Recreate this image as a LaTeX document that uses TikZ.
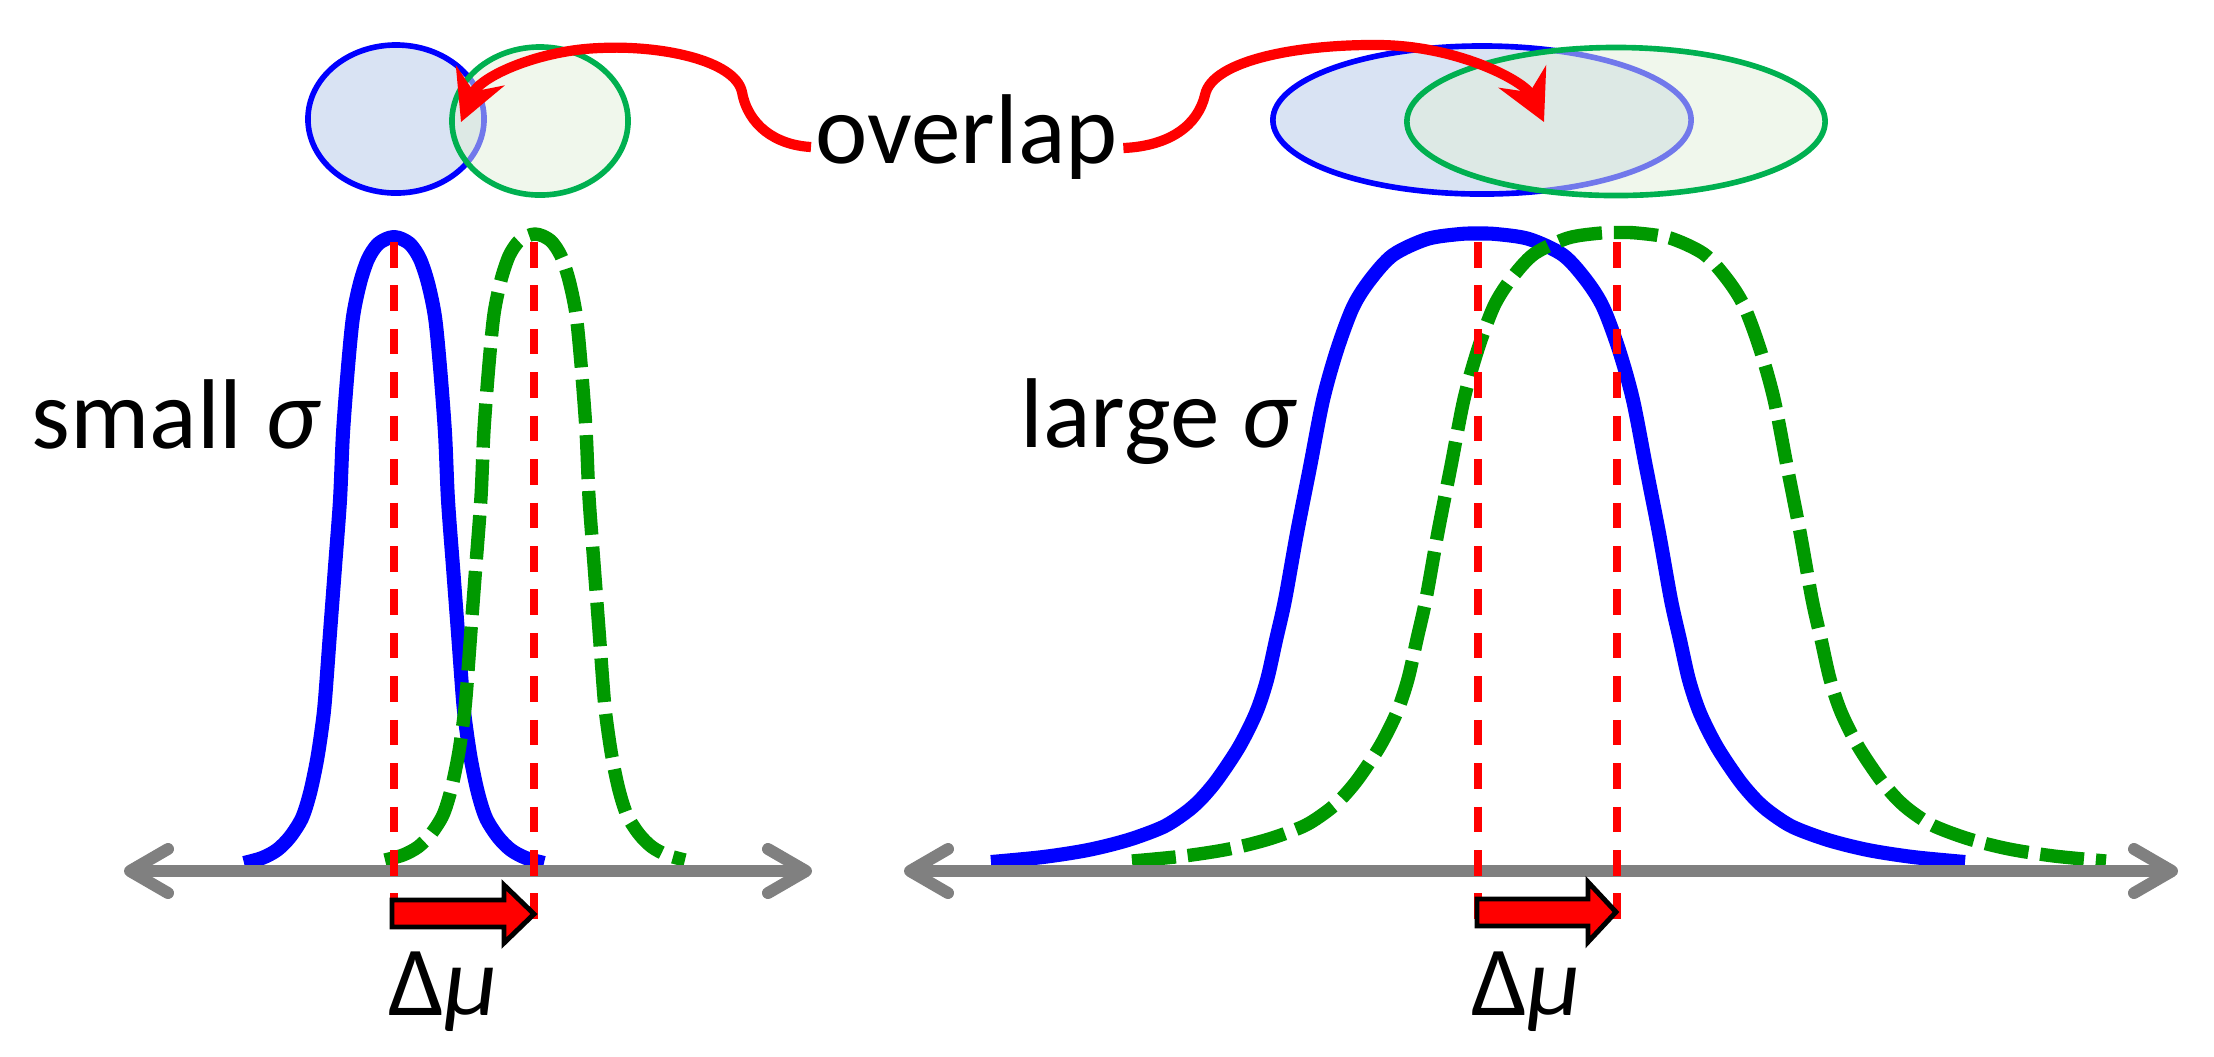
\documentclass[tikz,border=0pt]{standalone}
\usepackage{fontspec}
\setmainfont{Carlito}
\usetikzlibrary{arrows.meta,shapes.geometric}
\definecolor{curveblue}{HTML}{0000FF}
\definecolor{curvegreen}{HTML}{009900}
\definecolor{ellblue}{HTML}{B4C7E7}
\definecolor{ellgreen}{HTML}{E2F0D9}
\definecolor{ellgreenline}{HTML}{00B050}
\definecolor{axisgray}{HTML}{808080}
\tikzset{
  narrowbell/.pic={
    \path[pic actions] plot[smooth] coordinates {
      (-150,863) (-132,858) (-117,850) (-104,837) (-92,818) (-84,793) (-77,760)
      (-72,727) (-69,700) (-64,633) (-59,567) (-54,500) (-51,433) (-46,367)
      (-41,317) (-34,283) (-26,259) (-17,245) (-8,239) (0,237)
      (8,239) (17,245) (26,259) (34,283) (41,317) (46,367) (51,433) (54,500)
      (59,567) (64,633) (69,700) (72,727) (77,760) (84,793) (92,818) (104,837)
      (117,850) (132,858) (150,863)};
  },
  widebell/.pic={
    \path[pic actions] plot[smooth] coordinates {
      (-487,862) (-435,857) (-390,850) (-350,840) (-315,827) (-293,813)
      (-278,800) (-261,780) (-239,747) (-222,713) (-211,680) (-202,640)
      (-193,600) (-181,533) (-168,467) (-155,400) (-141,350) (-125,307)
      (-108,280) (-85,255) (-51,239) (-18,234) (0,233.5)
      (18,234) (51,239) (85,255) (108,280) (125,307) (141,350) (155,400)
      (168,467) (181,533) (193,600) (202,640) (211,680) (222,713) (239,747)
      (261,780) (278,800) (293,813) (315,827) (350,840) (390,850) (435,857)
      (487,862)};
  }
}
\begin{document}
\begin{tikzpicture}[x=0.01cm,y=-0.01cm,
  bluecurve/.style={draw=curveblue, line width=4pt, line join=round},
  greencurve/.style={draw=curvegreen, line width=3.8pt, dash pattern=on 12.5pt off 3.4pt},
  meanline/.style={draw=red, line width=2.3pt, dash pattern=on 7.25pt off 5.1pt},
  axisline/.style={draw=axisgray, line width=3.4pt,
    arrows={Straight Barb[length=3.8mm,width=4.4mm,round]-Straight Barb[length=3.8mm,width=4.4mm,round]}},
  ellb/.style={ellipse, draw=curveblue, line width=1.6pt, fill=ellblue, fill opacity=0.5, draw opacity=1, inner sep=0pt},
  ellg/.style={ellipse, draw=ellgreenline, line width=1.6pt, fill=ellgreen, fill opacity=0.5, draw opacity=1, inner sep=0pt},
  overlaparrow/.style={draw=red, line width=2.9pt, -{Stealth[length=5mm,width=5.2mm,inset=1.7mm]}},
  shiftarrow/.style={fill=red, draw=black, line width=1.4pt, line join=miter},
  lbl/.style={inner sep=0pt, anchor=base west, font=\fontsize{28.2}{34}\selectfont}
]
\useasboundingbox (0,0) rectangle (2214,1056);

% ellipses
\node[ellb, minimum width=1.76cm, minimum height=1.48cm] (eb1) at (396,119) {};
\node[ellg, minimum width=1.76cm, minimum height=1.48cm] (eg1) at (540,121) {};
\node[ellb, minimum width=4.18cm, minimum height=1.48cm] (eb2) at (1482,120) {};
\node[ellg, minimum width=4.18cm, minimum height=1.48cm] (eg2) at (1616,121.5) {};

% labels
\node[lbl] (ov) at (815,163) {overlap};
\node[lbl] (ls) at (31,448) {small {\itshape σ}};
\node[lbl] (ll) at (1020,447) {large {\itshape σ}};
\node[lbl] (dm1) at (388,1015) {Δ{\itshape μ}};
\node[lbl] (dm2) at (1471,1015) {Δ{\itshape μ}};

% overlap arrows
\coordinate (tipL) at (461,122);
\coordinate (tipR) at (1544,122);
\draw[overlaparrow] ([shift={(-4,-16)}]ov.base west) .. controls (775,145) and (748,125) .. (742,92)
  .. controls (735,60) and (660,45) .. (600,48)
  .. controls (540,50) and (480,76) .. (tipL);
\draw[overlaparrow] ([shift={(5,-15)}]ov.base east) .. controls (1170,146) and (1198,125) .. (1205,95)
  .. controls (1212,60) and (1300,44) .. (1380,45)
  .. controls (1460,46) and (1525,82) .. (tipR);

% bell curves
\pic[bluecurve] at (394,0) {narrowbell};
\pic[greencurve] at (535,-3) {narrowbell};
\pic[bluecurve] at (1478,0) {widebell};
\pic[greencurve] at (1619,-1) {widebell};

% axes
\coordinate (a1l) at (124,871);
\coordinate (a1r) at (812,871);
\coordinate (a2l) at (904,871);
\coordinate (a2r) at (2178,871);
\draw[axisline] (a1l) -- (a1r);
\draw[axisline] (a2l) -- (a2r);

% mean lines
\draw[meanline] (394,242) -- (394,925);
\draw[meanline] (534,242) -- (534,925);
\draw[meanline] (1478,242) -- (1478,925);
\draw[meanline] (1617,242) -- (1617,925);

% shift arrows
\draw[shiftarrow] (392,900) -- (504,900) -- (504,885) -- (534,914) -- (504,943) -- (504,927) -- (392,927) -- cycle;
\draw[shiftarrow] (1477,899) -- (1588,899) -- (1588,882) -- (1616,912) -- (1588,942) -- (1588,926) -- (1477,926) -- cycle;
\end{tikzpicture}
\end{document}
